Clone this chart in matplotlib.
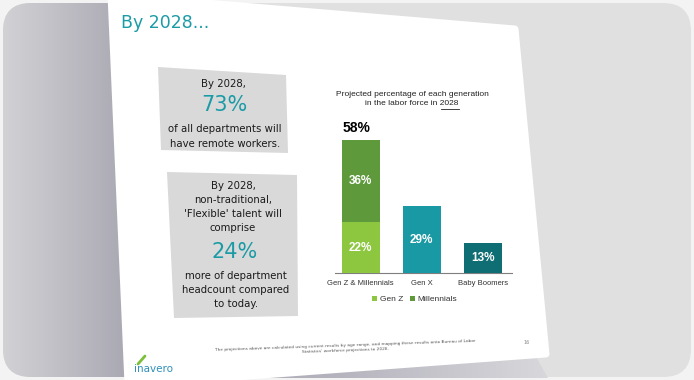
import numpy as np
import matplotlib
matplotlib.use("Agg")
import matplotlib.pyplot as plt
from matplotlib.patches import FancyBboxPatch, Polygon
from matplotlib.colors import LinearSegmentedColormap
from matplotlib import font_manager

# ---------------- data ----------------
categories = ["Gen Z & Millennials", "Gen X", "Baby Boomers"]
gen_z = [22, 0, 0]
millennials = [36, 0, 0]
gen_x = [0, 29, 0]
boomers = [0, 0, 13]
totals = [58, 29, 13]
legend_labels = ["Gen Z", "Millennials"]

box1_lines = ["By 2028,", "73%", "of all departments will\nhave remote workers."]
box2_lines = ["By 2028,\nnon-traditional,\n'Flexible' talent will\ncomprise", "24%",
              "more of department\nheadcount compared\nto today."]
slide_title = "By 2028..."
chart_title = "Projected percentage of each generation\nin the labor force in 2028"
footer = ("The projections above are calculated using current results by age range, and mapping these results onto Bureau of Labor\n"
          "Statistics' workforce projections to 2028.")

TEAL = "#1a9ba6"
C_GENZ = "#8dc63f"
C_MILL = "#5e9a3c"
C_GENX = "#1899a3"
C_BOOM = "#0e6e74"

avail = {f.name for f in font_manager.fontManager.ttflist}
NARROW = "Liberation Sans Narrow" if "Liberation Sans Narrow" in avail else "Liberation Sans"

W, H = 694, 380
fig = plt.figure(figsize=(W / 100, H / 100), dpi=100)
fig.patch.set_facecolor("#f3f3f3")

bg = fig.add_axes([0, 0, 1, 1])
bg.set_xlim(0, W)
bg.set_ylim(H, 0)
bg.axis("off")

# card
card = FancyBboxPatch((3, 3), W - 6, H - 6, boxstyle="round,pad=0,rounding_size=28",
                      fc="#e0e0e0", ec="none", zorder=0)
bg.add_patch(card)

# left gradient
grad = np.linspace(0, 1, 256)[None, :]
cmap_l = LinearSegmentedColormap.from_list("l", ["#d2d2d5", "#a7a6b1"])
im = bg.imshow(grad, cmap=cmap_l, extent=(3, 135, H - 3, 3), aspect="auto", zorder=1)
im.set_clip_path(card)

# shadow under slide bottom
cmap_s = LinearSegmentedColormap.from_list("s", ["#a3a2ad", "#b4b3bd", "#d8d8dc"])
shadow = Polygon([(110, 385), (535, 355), (548, 378), (110, 378)], closed=True, fc="none", ec="none")
bg.add_patch(shadow)
im2 = bg.imshow(grad, cmap=cmap_s, extent=(110, 550, 378, 350), aspect="auto", zorder=1)
im2.set_clip_path(shadow)

# slide
slide = Polygon([(111, -5), (515, 29), (546, 354), (128, 385)], closed=True,
                fc="white", ec="white", lw=5, joinstyle="round", zorder=2)
bg.add_patch(slide)

# slide title
bg.text(121, 23, slide_title, color=TEAL, fontsize=12.5, family="DejaVu Sans",
        ha="left", va="center", zorder=5)

# boxes
bg.add_patch(Polygon([(158, 67), (286, 75), (288, 153), (161, 150)], closed=True,
                     fc="#d9d9d9", ec="none", zorder=3))
bg.add_patch(Polygon([(167, 172), (297, 175), (298, 316), (174, 318)], closed=True,
                     fc="#d9d9d9", ec="none", zorder=3))

bf = dict(family="DejaVu Sans", ha="center", va="center", zorder=5)
TXT = "#1a1a1a"
bg.text(223, 84, box1_lines[0], fontsize=7.3, color=TXT, **bf)
bg.text(224, 105, box1_lines[1], fontsize=15, color=TEAL, **bf)
bg.text(225, 136.5, box1_lines[2], fontsize=7.3, color=TXT, linespacing=1.6, **bf)

bg.text(233, 207, box2_lines[0], fontsize=7.3, color=TXT, linespacing=1.5, **bf)
bg.text(235, 252, box2_lines[1], fontsize=15, color=TEAL, **bf)
bg.text(236, 290, box2_lines[2], fontsize=7.3, color=TXT, linespacing=1.5, **bf)

# chart title
bg.text(412, 99, chart_title, fontsize=6, color="#222222", ha="center", va="center",
        linespacing=1.45, family=NARROW, zorder=5)
bg.plot([441, 459], [109, 109], color="#222222", lw=0.6, zorder=5)

# footer
bg.text(345, 348, footer, fontsize=3.1, color="#555555", ha="center", va="center",
        linespacing=1.3, zorder=5, rotation=2)
bg.text(527, 343, "16", fontsize=3.5, color="#888888", ha="center", va="center", zorder=5)

# logo
bg.text(134, 369, "inavero", fontsize=7.5, color="#2f8fb8", ha="left", va="center",
        family="DejaVu Sans", zorder=5)
bg.plot([138, 145], [364, 356], color="#7bbf3a", lw=2, solid_capstyle="round", zorder=5)

# ---------------- bar chart ----------------
x0, x1, ybase, ytop = 335, 512, 273, 135
ax = fig.add_axes([x0 / W, (H - ybase) / H, (x1 - x0) / W, (ybase - ytop) / H])
ax.set_facecolor("none")
xs = np.arange(len(categories))
bw = 0.62
b1 = ax.bar(xs[:1], gen_z[:1], width=bw, color=C_GENZ, label=legend_labels[0], zorder=3)
b2 = ax.bar(xs[:1], millennials[:1], bottom=gen_z[:1], width=bw, color=C_MILL,
            label=legend_labels[1], zorder=3)
ax.bar(xs[1:2], gen_x[1:2], width=bw, color=C_GENX, zorder=3)
ax.bar(xs[2:3], boomers[2:3], width=bw, color=C_BOOM, zorder=3)
ax.set_xlim(-0.42, 2.48)
ax.set_ylim(0, 60)

vf = dict(ha="center", va="center", color="white", fontsize=8.5, fontweight="bold",
          family=NARROW)
ax.text(xs[0], gen_z[0] / 2, f"{gen_z[0]}%", **vf)
ax.text(xs[0], gen_z[0] + millennials[0] / 2, f"{millennials[0]}%", **vf)
ax.text(xs[1], gen_x[1] / 2, f"{gen_x[1]}%", **vf)
ax.text(xs[2], boomers[2] / 2, f"{boomers[2]}%", **vf)
ax.text(xs[0] - 0.07, totals[0] + 2.0, f"{totals[0]}%", ha="center", va="bottom",
        fontsize=10, fontweight="bold", color="black", family=NARROW)

for s in ["top", "right", "left"]:
    ax.spines[s].set_visible(False)
ax.spines["bottom"].set_color("#7f7f7f")
ax.spines["bottom"].set_linewidth(0.8)
ax.set_yticks([])
ax.set_xticks(xs)
ax.set_xticklabels(categories, fontsize=5.5, color="#333333", family=NARROW)
ax.tick_params(axis="x", length=0, pad=5)
leg = ax.legend(handles=[b1, b2], loc="upper center", bbox_to_anchor=(0.45, -0.11),
                ncol=2, frameon=False, prop={"family": NARROW, "size": 6},
                handlelength=0.6, handleheight=0.6,
                handletextpad=0.3, columnspacing=0.8)
for t in leg.get_texts():
    t.set_color("#333333")

fig.savefig("out.png", dpi=100, facecolor=fig.get_facecolor())
